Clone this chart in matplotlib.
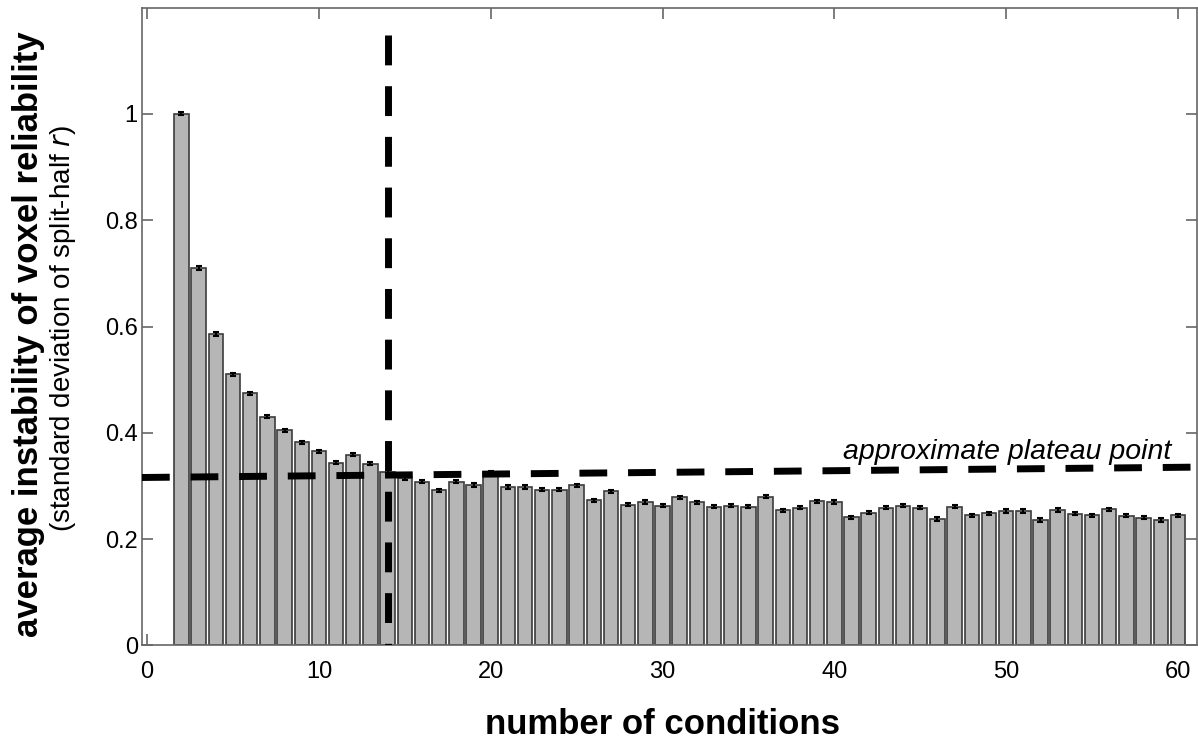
import os

os.environ.setdefault("MPLBACKEND", "Agg")

import matplotlib.pyplot as plt
import numpy as np

plt.rcParams["font.family"] = ["Liberation Sans", "DejaVu Sans"]

# number of conditions and mean instability
n_conditions = list(range(2, 61))
instability = [
    1.000, 0.710, 0.586, 0.510, 0.474, 0.430, 0.405, 0.382, 0.365, 0.344,
    0.359, 0.342, 0.327, 0.315, 0.308, 0.292, 0.308, 0.302, 0.326, 0.298,
    0.298, 0.293, 0.293, 0.301, 0.273, 0.290, 0.265, 0.270, 0.263, 0.279,
    0.269, 0.261, 0.263, 0.261, 0.280, 0.254, 0.259, 0.271, 0.270, 0.241,
    0.250, 0.259, 0.263, 0.259, 0.238, 0.261, 0.245, 0.249, 0.253, 0.253,
    0.236, 0.255, 0.248, 0.245, 0.256, 0.244, 0.240, 0.236, 0.245,
]
instability_err = [0.003] * len(instability)

plateau_x = 14
trend_x = [-0.3, 61.1]
trend_y = [0.316, 0.3355]

x_ticks = [0, 10, 20, 30, 40, 50, 60]
y_ticks = [0, 0.2, 0.4, 0.6, 0.8, 1.0]
y_ticklabels = ["0", "0.2", "0.4", "0.6", "0.8", "1"]

fig = plt.figure(figsize=(11.98, 7.44), dpi=100)
ax = fig.add_axes([0.1185, 0.1324, 0.8805, 0.8575])

ax.bar(n_conditions, instability, width=0.84, color="#b6b6b6",
       edgecolor="#3c3c3c", linewidth=1.2, zorder=2)
ax.errorbar(n_conditions, instability, yerr=instability_err, fmt="none",
            ecolor="black", elinewidth=1.5, capsize=2, capthick=1.5, zorder=3)

# approximate plateau markers
ax.plot(trend_x, trend_y, color="black", linewidth=5, linestyle=(0, (4, 3)),
        dash_capstyle="butt", zorder=4, clip_on=False)
ax.plot([plateau_x, plateau_x], [1.148, 0], color="black", linewidth=5,
        linestyle=(0, (4.3, 3)), dash_capstyle="butt", zorder=4)
ax.text(59.6, 0.350, "approximate plateau point", fontsize=20.5, style="italic",
        ha="right", va="baseline", zorder=5)

ax.set_xlim(-0.3, 61.1)
ax.set_ylim(0, 1.2)
ax.set_xticks(x_ticks)
ax.set_yticks(y_ticks)
ax.set_yticklabels(y_ticklabels)
ax.tick_params(direction="in", top=True, right=True, labeltop=False, labelright=False,
               length=8, width=1.2, color="#666666", labelsize=17)
ax.tick_params(axis="x", pad=11)
ax.tick_params(axis="y", pad=3)
for s in ax.spines.values():
    s.set_color("#666666")
    s.set_linewidth(1.2)

fig.text(0.0242, 0.551, "average instability of voxel reliability", rotation=90,
         fontsize=25, fontweight="bold", ha="center", va="center")
fig.text(0.053, 0.558, "(standard deviation of split-half $\\it{r}$)", rotation=90,
         fontsize=20, ha="center", va="center")
fig.text(0.553, 0.013, "number of conditions", fontsize=25, fontweight="bold",
         ha="center", va="baseline")

fig.savefig("out.png", dpi=100)
